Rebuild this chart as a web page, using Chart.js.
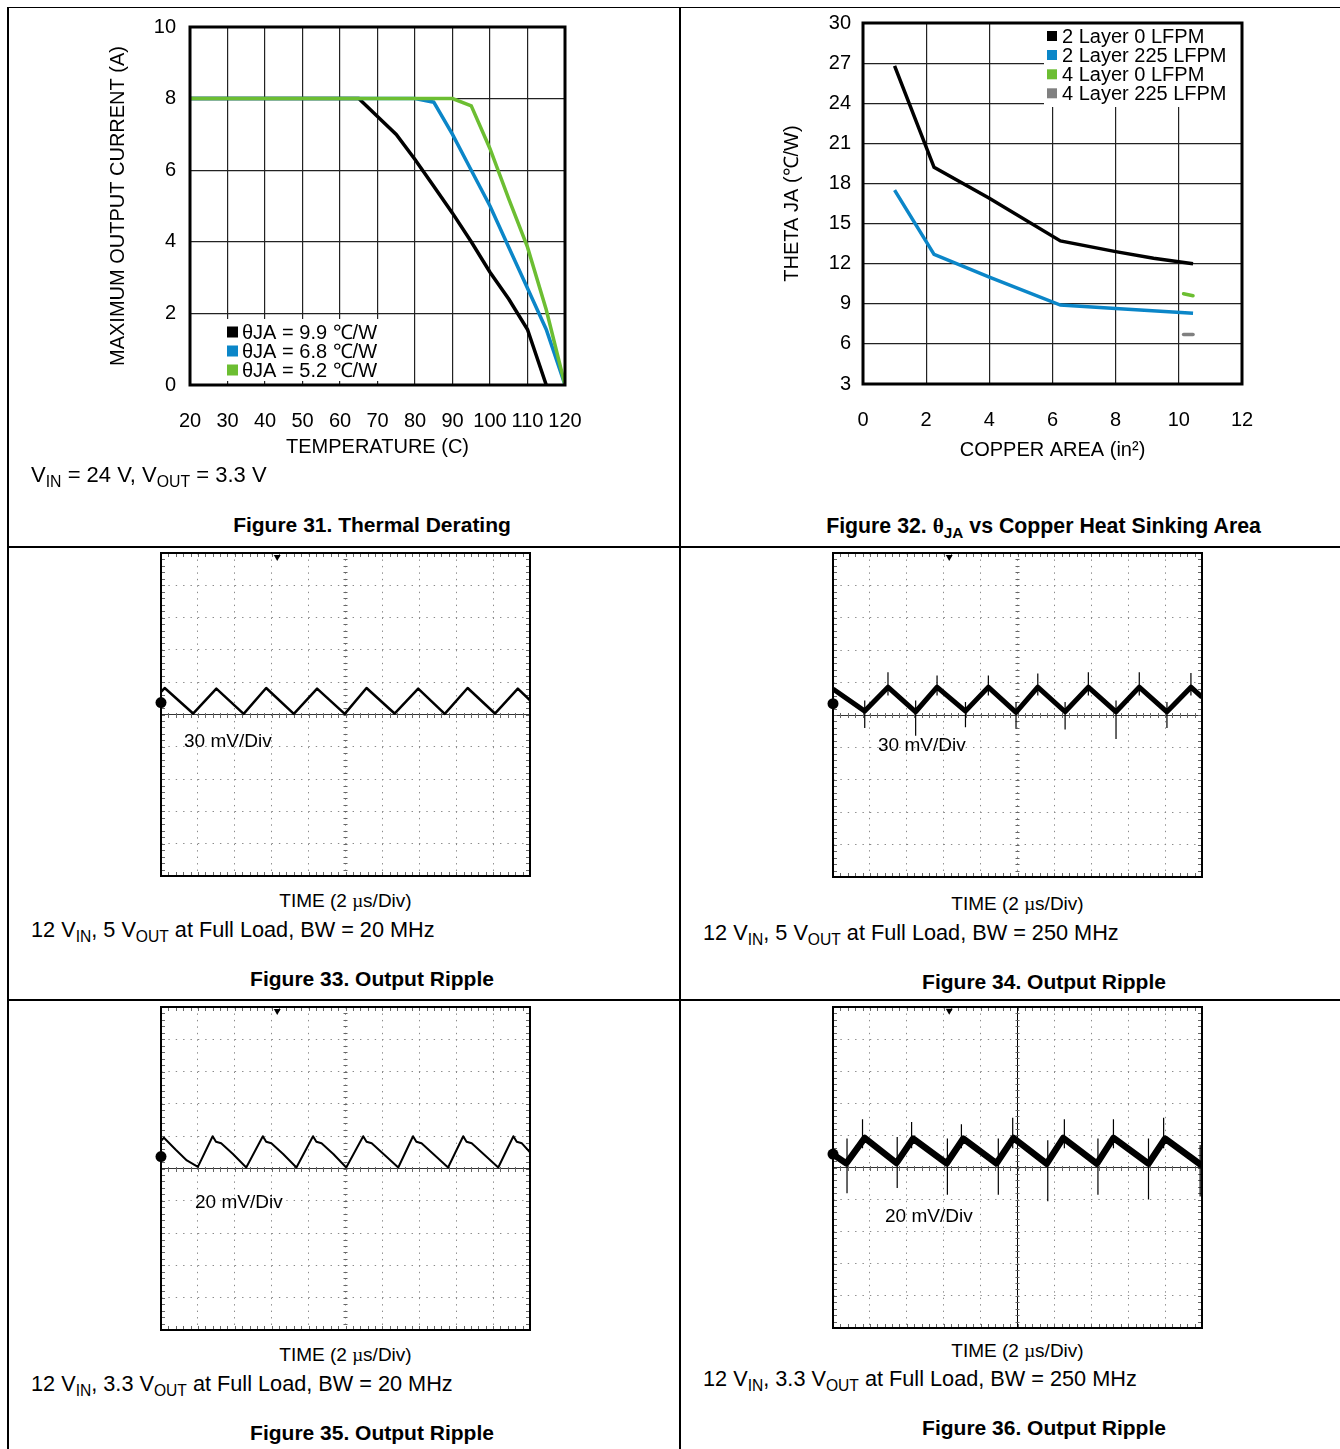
<!DOCTYPE html>
<html>
<head>
<meta charset="utf-8">
<script src="https://cdn.jsdelivr.net/npm/chart.js@4.4.0/dist/chart.umd.min.js"></script>
<style>
  body { margin: 0; background: #fff; }
  #page { position: relative; width: 1340px; height: 1449px; overflow: hidden; font-family: "Liberation Sans", Arial, sans-serif; color: #000; }
  .rule { position: absolute; background: #000; }
  .txt { position: absolute; white-space: nowrap; line-height: 1; }
  .s { position: relative; top: 0.3em; font-size: 0.72em; }
  .serif { font-family: "Liberation Serif", "Times New Roman", serif; }
  canvas { position: absolute; }
</style>
</head>
<body>
<div id="page"></div>
<script>
// Figure 31 - thermal derating (temperature C, current A)
const derTemp99 = [20, 65, 70, 75, 80, 85, 90, 95, 100, 105, 110, 115];
const derCurr99 = [8, 8, 7.5, 7.0, 6.3, 5.55, 4.8, 4.0, 3.15, 2.4, 1.55, 0];
const derTemp68 = [20, 80, 85, 90, 95, 100, 105, 110, 115, 120];
const derCurr68 = [8, 8, 7.9, 7.0, 6.0, 5.0, 3.85, 2.7, 1.55, 0];
const derTemp52 = [20, 90, 95, 100, 105, 110, 115, 120];
const derCurr52 = [8, 8, 7.8, 6.6, 5.2, 3.85, 2.1, 0];
const derLabels = ["θJA = 9.9 ℃/W", "θJA = 6.8 ℃/W", "θJA = 5.2 ℃/W"];

// Figure 32 - theta JA vs copper area (in2, C/W)
const cuArea2L0 = [1.0, 2.25, 4.0, 6.25, 8.0, 9.2, 10.45];
const theta2L0 = [26.8, 19.2, 16.9, 13.7, 12.9, 12.4, 12.0];
const cuArea2L225 = [1.0, 2.25, 4.0, 6.25, 8.0, 10.45];
const theta2L225 = [17.5, 12.7, 11.0, 8.9, 8.65, 8.3];
const cuArea4L0 = [10.15, 10.45];
const theta4L0 = [9.75, 9.6];
const cuArea4L225 = [10.15, 10.45];
const theta4L225 = [6.7, 6.7];
const thetaLabels = ["2 Layer 0 LFPM", "2 Layer 225 LFPM", "4 Layer 0 LFPM", "4 Layer 225 LFPM"];

// Scope traces, in screen divisions (time 0..10, level -5..5)
const ripple33Time = [0, 0.1, 0.87, 1.5, 2.24, 2.85, 3.6, 4.23, 4.98, 5.57, 6.33, 6.97, 7.69, 8.31, 9.05, 9.67, 10];
const ripple33Level = [0.7, 0.82, 0.03, 0.8, 0.02, 0.82, 0.02, 0.8, 0.02, 0.82, 0.03, 0.8, 0.02, 0.82, 0.03, 0.8, 0.44];

const ripple34Time = [0, 0.86, 1.49, 2.24, 2.82, 3.59, 4.21, 4.96, 5.55, 6.29, 6.92, 7.67, 8.3, 9.05, 9.7, 10];
const ripple34Level = [0.8, 0.12, 0.86, 0.1, 0.86, 0.12, 0.86, 0.08, 0.86, 0.1, 0.86, 0.1, 0.86, 0.1, 0.86, 0.55];
const spike34Time = [0.86, 1.49, 2.24, 2.82, 3.59, 4.21, 4.96, 5.55, 6.29, 6.92, 7.67, 8.3, 9.05, 9.7];
const spike34Low = [-0.4, 0.6, -0.64, 0.6, -0.38, 0.6, -0.42, 0.6, -0.45, 0.6, -0.74, 0.6, -0.4, 0.6];
const spike34High = [0.45, 1.32, 0.45, 1.22, 0.4, 1.22, 0.4, 1.28, 0.4, 1.32, 0.45, 1.32, 0.4, 1.3];

const ripple35Time = [0, 0.08, 0.4, 0.7, 1.0, 1.4, 1.49, 1.63, 1.95, 2.31, 2.76, 2.85, 2.99, 3.31, 3.67, 4.12, 4.21, 4.35, 4.67, 5.02,
  5.48, 5.57, 5.71, 6.03, 6.43, 6.83, 6.92, 7.06, 7.38, 7.78, 8.19, 8.28, 8.42, 8.74, 9.14, 9.55, 9.64, 9.78, 10];
const ripple35Level = [0.86, 0.95, 0.58, 0.25, 0.05, 1.0, 0.83, 0.78, 0.45, 0.03, 1.0, 0.83, 0.78, 0.45, 0.03, 1.0, 0.83, 0.78, 0.45, 0.03,
  1.0, 0.83, 0.78, 0.45, 0.03, 1.0, 0.83, 0.78, 0.45, 0.03, 1.0, 0.83, 0.78, 0.45, 0.03, 1.0, 0.83, 0.78, 0.5];

const ripple36Time = [0, 0.36, 0.86, 1.72, 2.17, 3.08, 3.53, 4.43, 4.89, 5.79, 6.24, 7.15, 7.6, 8.55, 9.0, 9.95, 10];
const ripple36Level = [0.41, 0.13, 0.92, 0.14, 0.9, 0.13, 0.9, 0.13, 0.92, 0.12, 0.92, 0.12, 0.92, 0.12, 0.9, 0.1, 0.12];
const spike36Time = [0.38, 0.8, 1.74, 2.13, 3.1, 3.48, 4.48, 4.87, 5.82, 6.27, 7.18, 7.6, 8.55, 8.96, 9.95];
const spike36Low = [-0.8, 0.6, -0.64, 0.6, -0.85, 0.6, -0.85, 0.6, -1.05, 0.6, -0.85, 0.6, -1.0, 0.6, -0.9];
const spike36High = [0.9, 1.5, 0.95, 1.42, 0.9, 1.35, 0.9, 1.55, 0.85, 1.5, 0.9, 1.5, 0.9, 1.55, 0.7];

// ground marker (left edge) and trigger marker (top edge)
const markerTime = [0, 3.15];
const marker33 = [0.37, 4.88];
const marker34 = [0.35, 4.88];
const marker35 = [0.37, 4.88];
const marker36 = [0.42, 4.88];

const BLUE = "#0b86c8";
const GREEN = "#6cbe32";
const GRAY = "#808080";
const FONT = '"Liberation Sans", Arial, sans-serif';

Chart.defaults.font.family = FONT;
Chart.defaults.color = "#000";

const page = document.getElementById("page");

const pairs = (xs, ys) => xs.map((x, i) => ({ x: x, y: ys[i] }));
const spikes = (ts, lows, highs) => ts.flatMap((t, i) => [{ x: t, y: lows[i] }, { x: t, y: highs[i] }, { x: t, y: null }]);

// fixed axis size, and no extra room asked for the end labels
const fixHeight = h => s => { s.height = h; s.paddingLeft = 0; s.paddingRight = 0; };
const fixWidth = w => s => { s.width = w; s.paddingTop = 0; s.paddingBottom = 0; };

function makeCanvas(left, top, width, height) {
  const c = document.createElement("canvas");
  c.width = width;
  c.height = height;
  c.style.left = left + "px";
  c.style.top = top + "px";
  c.style.width = width + "px";
  c.style.height = height + "px";
  page.appendChild(c);
  return c;
}

function addText(html, x, y, size, opts) {
  opts = opts || {};
  const el = document.createElement("div");
  el.className = "txt";
  el.innerHTML = html;
  el.style.fontSize = size + "px";
  if (opts.bold) el.style.fontWeight = "bold";
  el.style.left = x + "px";
  el.style.top = y + "px";
  el.style.transform = opts.center ? "translate(-50%, -50%)" : "translateY(-50%)";
  page.appendChild(el);
}

function addRule(left, top, width, height) {
  const r = document.createElement("div");
  r.className = "rule";
  r.style.left = left + "px";
  r.style.top = top + "px";
  r.style.width = width + "px";
  r.style.height = height + "px";
  page.appendChild(r);
}

// heavy box round the plot area
function plotFrame(width) {
  return {
    id: "plotFrame",
    afterDatasetsDraw(chart) {
      const { ctx, chartArea: a } = chart;
      ctx.save();
      ctx.strokeStyle = "#000";
      ctx.lineWidth = width;
      ctx.strokeRect(a.left, a.top, a.right - a.left, a.bottom - a.top);
      ctx.restore();
    }
  };
}

// legend drawn inside the plot on a white patch (offsets from the chart area corner)
function insetLegend(cfg) {
  return {
    id: "insetLegend",
    beforeDatasetsDraw(chart) {
      const { ctx, chartArea: a } = chart;
      const ox = cfg.fromRight ? a.right : a.left;
      const oy = cfg.fromBottom ? a.bottom : a.top;
      ctx.save();
      ctx.fillStyle = "#fff";
      ctx.fillRect(ox + cfg.box[0], oy + cfg.box[1], cfg.box[2], cfg.box[3]);
      ctx.font = cfg.size + "px " + FONT;
      ctx.textBaseline = "middle";
      chart.data.datasets.forEach((ds, i) => {
        if (!ds.label) return;
        const y = oy + cfg.rows[i];
        ctx.fillStyle = ds.borderColor;
        ctx.fillRect(ox + cfg.squareX, y - cfg.square / 2, cfg.square, cfg.square);
        ctx.fillStyle = "#000";
        ctx.fillText(ds.label, ox + cfg.textX, y + 1);
      });
      ctx.restore();
    }
  };
}

// small division marks on the border and centre lines of the scope screens
const scopeTicks = {
  id: "scopeTicks",
  beforeDatasetsDraw(chart) {
    const { ctx, chartArea: a, scales } = chart;
    const cx = scales.x.getPixelForValue(5);
    const cy = Math.round(scales.y.getPixelForValue(0));
    ctx.save();
    ctx.strokeStyle = "#666";
    ctx.lineWidth = 1;
    ctx.beginPath();
    for (let i = 0; i <= 50; i++) {
      const px = Math.round(scales.x.getPixelForValue(i * 0.2)) + 0.5;
      ctx.moveTo(px, a.top); ctx.lineTo(px, a.top + 4);
      ctx.moveTo(px, a.bottom); ctx.lineTo(px, a.bottom - 4);
      ctx.moveTo(px, cy - 2); ctx.lineTo(px, cy + 3);
      const py = Math.round(scales.y.getPixelForValue(-5 + i * 0.2)) + 0.5;
      ctx.moveTo(a.left, py); ctx.lineTo(a.left + 4, py);
      ctx.moveTo(a.right, py); ctx.lineTo(a.right - 4, py);
      ctx.moveTo(cx - 2, py); ctx.lineTo(cx + 2, py);
    }
    ctx.stroke();
    ctx.restore();
  }
};

// ---------- table rules ----------
addRule(8, 7, 1332, 1);
addRule(7, 7, 2, 1442);
addRule(679, 7, 2, 1442);
addRule(8, 546, 1332, 2);
addRule(8, 999, 1332, 2);

// ---------- Figure 31 ----------
new Chart(makeCanvas(100, 12, 490, 452), {
  type: "line",
  data: {
    datasets: [
      { label: derLabels[0], data: pairs(derTemp99, derCurr99), borderColor: "#000", order: 2 },
      { label: derLabels[1], data: pairs(derTemp68, derCurr68), borderColor: BLUE, order: 1 },
      { label: derLabels[2], data: pairs(derTemp52, derCurr52), borderColor: GREEN, order: 0 }
    ]
  },
  options: {
    responsive: false,
    animation: false,
    layout: { padding: { top: 15, right: 25, left: 0, bottom: 0 } },
    elements: { point: { radius: 0 }, line: { borderWidth: 3.5, tension: 0 } },
    plugins: { legend: { display: false }, tooltip: { enabled: false } },
    scales: {
      x: {
        type: "linear", min: 20, max: 120,
        ticks: { stepSize: 10, padding: 24, autoSkip: false, maxRotation: 0, font: { size: 20 } },
        grid: { color: "#222", lineWidth: 1.2, drawTicks: false },
        border: { display: false },
        title: { display: true, text: "TEMPERATURE (C)", font: { size: 20 }, padding: { top: 0, bottom: 5 } },
        afterFit: fixHeight(79)
      },
      y: {
        type: "linear", min: 0, max: 10,
        ticks: { stepSize: 2, padding: 14, font: { size: 20 } },
        grid: { color: "#222", lineWidth: 1.2, drawTicks: false },
        border: { display: false },
        title: { display: true, text: "MAXIMUM OUTPUT CURRENT (A)", font: { size: 20 }, padding: { top: 6, bottom: 0 } },
        afterFit: fixWidth(90)
      }
    }
  },
  plugins: [plotFrame(3), insetLegend({ fromBottom: true, box: [2, -66, 220, 62], rows: [-53, -34, -15], squareX: 37, square: 11, textX: 52, size: 20 })]
});

// ---------- Figure 32 ----------
new Chart(makeCanvas(775, 10, 495, 455), {
  type: "line",
  data: {
    datasets: [
      { label: thetaLabels[0], data: pairs(cuArea2L0, theta2L0), borderColor: "#000" },
      { label: thetaLabels[1], data: pairs(cuArea2L225, theta2L225), borderColor: BLUE },
      { label: thetaLabels[2], data: pairs(cuArea4L0, theta4L0), borderColor: GREEN, borderCapStyle: "round" },
      { label: thetaLabels[3], data: pairs(cuArea4L225, theta4L225), borderColor: GRAY, borderCapStyle: "round" }
    ]
  },
  options: {
    responsive: false,
    animation: false,
    layout: { padding: { top: 13, right: 28, left: 0, bottom: 0 } },
    elements: { point: { radius: 0 }, line: { borderWidth: 3.5, tension: 0 } },
    plugins: { legend: { display: false }, tooltip: { enabled: false } },
    scales: {
      x: {
        type: "linear", min: 0, max: 12,
        ticks: { stepSize: 2, padding: 24, autoSkip: false, maxRotation: 0, font: { size: 20 } },
        grid: { color: "#222", lineWidth: 1.2, drawTicks: false },
        border: { display: false },
        title: { display: true, text: "COPPER AREA (in²)", font: { size: 20 }, padding: { top: 0, bottom: 3 } },
        afterFit: fixHeight(81)
      },
      y: {
        type: "linear", min: 3, max: 30,
        ticks: { stepSize: 3, padding: 12, font: { size: 20 } },
        grid: { color: "#222", lineWidth: 1.2, drawTicks: false },
        border: { display: false },
        title: { display: true, text: "THETA JA (℃/W)", font: { size: 20 }, padding: { top: 5, bottom: 0 } },
        afterFit: fixWidth(88)
      }
    }
  },
  plugins: [plotFrame(3), insetLegend({ fromRight: true, box: [-198, 0, 198, 84], rows: [13, 32, 51.3, 70.3], squareX: -195, square: 10, textX: -180, size: 20 })]
});

// ---------- scope screens ----------
function buildScope(box, traces, markers, solidMid) {
  const pad = 8;
  const canvas = makeCanvas(box[0] - pad, box[1] - pad, box[2] + 2 * pad, box[3] + 2 * pad);
  const datasets = traces.map(t => ({
    data: t.data,
    borderColor: "#000",
    borderWidth: t.width,
    borderJoinStyle: "round",
    spanGaps: false,
    pointRadius: 0
  }));
  datasets.push({
    data: pairs(markerTime, markers),
    showLine: false,
    clip: false,
    pointStyle: ["circle", "triangle"],
    pointRotation: [0, 180],
    pointRadius: [5.5, 4],
    pointBackgroundColor: "#000",
    pointBorderColor: "#000",
    pointBorderWidth: 0
  });
  new Chart(canvas, {
    type: "line",
    data: { datasets: datasets },
    options: {
      responsive: false,
      animation: false,
      layout: { padding: pad },
      elements: { line: { tension: 0 } },
      plugins: { legend: { display: false }, tooltip: { enabled: false } },
      scales: {
        x: {
          type: "linear", min: 0, max: 10,
          ticks: { display: false, stepSize: 1 },
          grid: {
            drawTicks: false, lineWidth: 1,
            color: ctx => (solidMid && ctx.tick && ctx.tick.value === 5) ? "rgba(0,0,0,0)" : "#8a8a8a"
          },
          border: { display: false, dash: [1.4, 5.06] },
          afterFit: fixHeight(0)
        },
        xMid: {
          type: "linear", min: 0, max: 10, position: "bottom",
          afterBuildTicks: s => { s.ticks = [{ value: 5 }]; },
          ticks: { display: false },
          grid: { drawTicks: false, lineWidth: 1, color: solidMid ? "#000" : "rgba(0,0,0,0)" },
          border: { display: false },
          afterFit: fixHeight(0)
        },
        y: {
          type: "linear", min: -5, max: 5,
          ticks: { display: false, stepSize: 1 },
          grid: { drawTicks: false, lineWidth: 1, color: ctx => (ctx.tick && ctx.tick.value === 0) ? "rgba(0,0,0,0)" : "#8a8a8a" },
          border: { display: false, dash: [1.4, 5.97] },
          afterFit: fixWidth(0)
        },
        yMid: {
          type: "linear", min: -5, max: 5, position: "left",
          afterBuildTicks: s => { s.ticks = [{ value: 0 }]; },
          ticks: { display: false },
          grid: { drawTicks: false, lineWidth: 1, color: "#333" },
          border: { display: false },
          afterFit: fixWidth(0)
        }
      }
    },
    plugins: [scopeTicks, plotFrame(2)]
  });
}

buildScope([161, 553, 369, 323],
  [{ data: pairs(ripple33Time, ripple33Level), width: 2.5 }], marker33, false);
buildScope([833, 553, 369, 324],
  [{ data: pairs(ripple34Time, ripple34Level), width: 5 }, { data: spikes(spike34Time, spike34Low, spike34High), width: 1.2 }], marker34, false);
buildScope([161, 1007, 369, 323],
  [{ data: pairs(ripple35Time, ripple35Level), width: 2 }], marker35, false);
buildScope([833, 1007, 369, 321],
  [{ data: pairs(ripple36Time, ripple36Level), width: 6.5 }, { data: spikes(spike36Time, spike36Low, spike36High), width: 1.2 }], marker36, true);

// ---------- texts ----------
const mu = '<span class="serif">µ</span>';
addText('V<span class="s">IN</span> = 24 V, V<span class="s">OUT</span> = 3.3 V', 31, 475, 22);
addText("Figure 31. Thermal Derating", 372, 524, 21, { bold: true, center: true });
addText('Figure 32. <span class="serif">θ</span><span class="s">JA</span> vs Copper Heat Sinking Area', 1043.5, 527, 21.3, { bold: true, center: true });

addText("30 mV/Div", 184, 740, 19);
addText("30 mV/Div", 878, 744, 19);
addText("20 mV/Div", 195, 1201, 19);
addText("20 mV/Div", 885, 1215, 19);

addText("TIME (2 " + mu + "s/Div)", 345.5, 900, 19, { center: true });
addText("TIME (2 " + mu + "s/Div)", 1017.5, 903, 19, { center: true });
addText("TIME (2 " + mu + "s/Div)", 345.5, 1354, 19, { center: true });
addText("TIME (2 " + mu + "s/Div)", 1017.5, 1350, 19, { center: true });

addText('12 V<span class="s">IN</span>, 5 V<span class="s">OUT</span> at Full Load, BW = 20 MHz', 31, 930, 21.7);
addText('12 V<span class="s">IN</span>, 5 V<span class="s">OUT</span> at Full Load, BW = 250 MHz', 703, 933, 21.7);
addText('12 V<span class="s">IN</span>, 3.3 V<span class="s">OUT</span> at Full Load, BW = 20 MHz', 31, 1384, 21.7);
addText('12 V<span class="s">IN</span>, 3.3 V<span class="s">OUT</span> at Full Load, BW = 250 MHz', 703, 1379, 21.7);

addText("Figure 33. Output Ripple", 372, 978, 21, { bold: true, center: true });
addText("Figure 34. Output Ripple", 1044, 981, 21, { bold: true, center: true });
addText("Figure 35. Output Ripple", 372, 1432, 21, { bold: true, center: true });
addText("Figure 36. Output Ripple", 1044, 1427, 21, { bold: true, center: true });
</script>
</body>
</html>
